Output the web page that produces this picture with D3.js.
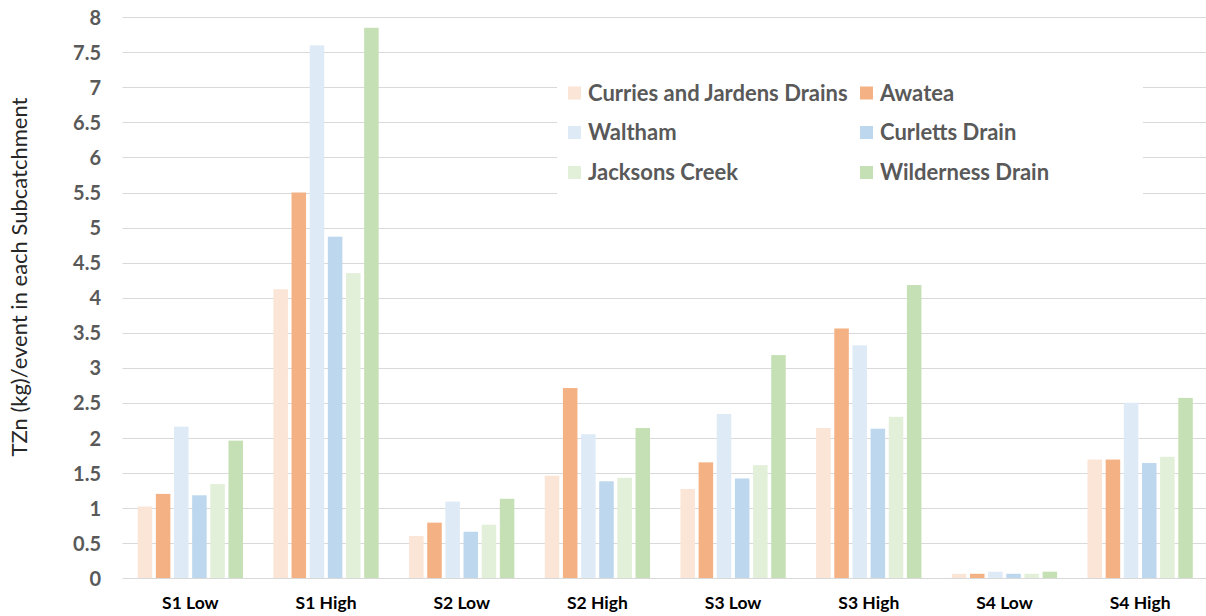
<!DOCTYPE html>
<html>
<head>
<meta charset="utf-8">
<script src="https://cdn.jsdelivr.net/npm/d3@7"></script>
<style>
  html, body { margin: 0; padding: 0; background: #fff; }
  svg { display: block; }
</style>
</head>
<body>
<div id="chart"></div>
<script>
const categories = ["S1 Low", "S1 High", "S2 Low", "S2 High", "S3 Low", "S3 High", "S4 Low", "S4 High"];
const seriesNames = ["Curries and Jardens Drains", "Awatea", "Waltham", "Curletts Drain", "Jacksons Creek", "Wilderness Drain"];
const curries    = [1.02, 4.12, 0.60, 1.46, 1.27, 2.14, 0.06, 1.69];
const awatea     = [1.20, 5.50, 0.79, 2.71, 1.65, 3.56, 0.06, 1.69];
const waltham    = [2.16, 7.60, 1.09, 2.05, 2.34, 3.32, 0.09, 2.50];
const curletts   = [1.18, 4.87, 0.66, 1.38, 1.42, 2.13, 0.06, 1.64];
const jacksons   = [1.34, 4.35, 0.76, 1.43, 1.61, 2.30, 0.06, 1.73];
const wilderness = [1.96, 7.85, 1.13, 2.14, 3.18, 4.18, 0.09, 2.57];
const yTicks = [0, 0.5, 1, 1.5, 2, 2.5, 3, 3.5, 4, 4.5, 5, 5.5, 6, 6.5, 7, 7.5, 8];
const colors = ["#FBE5D6", "#F4B183", "#DEEBF7", "#BDD7EE", "#E2F0D9", "#C5E0B4"];
const yTitle = "TZn (kg)/event in each Subcatchment";

const seriesValues = [curries, awatea, waltham, curletts, jacksons, wilderness];

const W = 1206, H = 616;
const plotLeft = 122.5, plotRight = 1208, plotTop = 17.3, plotBottom = 578;

const svg = d3.select("#chart").append("svg").attr("width", W).attr("height", H);

const x = d3.scaleBand().domain(categories).range([plotLeft, plotRight]).paddingInner(0).paddingOuter(0);
const inner = d3.scaleBand().domain(d3.range(seriesNames.length))
  .range([15.2, x.bandwidth() - 15.2]).paddingInner(0.2).paddingOuter(0);
const y = d3.scaleLinear().domain([0, 8]).range([plotBottom, plotTop]);

// gridlines
const grid = svg.append("g").attr("class", "grid");
grid.selectAll("line").data(yTicks).join("line")
  .attr("x1", plotLeft).attr("x2", W)
  .attr("y1", d => Math.round(y(d)) + 0.5).attr("y2", d => Math.round(y(d)) + 0.5)
  .attr("stroke", "#D9D9D9").attr("stroke-width", 1);

// y axis labels
const yAxis = d3.axisLeft(y).tickValues(yTicks).tickSize(0).tickPadding(0).tickFormat(d3.format("~g"));
const yg = svg.append("g").attr("transform", `translate(101,0)`).call(yAxis);
yg.select(".domain").remove();
yg.selectAll("text")
  .attr("font-family", "Lato, 'Open Sans', sans-serif")
  .attr("font-weight", "bold").attr("font-size", 20).attr("fill", "#595959")
  .attr("dy", "0.36em");

// bars
const groups = svg.append("g").selectAll("g").data(categories).join("g")
  .attr("transform", d => `translate(${x(d)},0)`);
groups.selectAll("rect").data((c, ci) => seriesValues.map((vals, si) => ({si, v: vals[ci]})))
  .join("rect")
  .attr("x", d => inner(d.si))
  .attr("width", inner.bandwidth())
  .attr("y", d => y(d.v))
  .attr("height", d => y(0) - y(d.v))
  .attr("fill", d => colors[d.si]);

// x axis
const xAxis = d3.axisBottom(x).tickSize(0).tickPadding(0);
const xg = svg.append("g").attr("transform", `translate(0,${plotBottom})`).call(xAxis);
xg.select(".domain").remove();
xg.selectAll("text")
  .attr("font-family", "Lato, 'Open Sans', sans-serif")
  .attr("font-weight", "bold").attr("font-size", 17.5).attr("fill", "#000")
  .attr("y", 31).attr("dy", 0);

// y title
svg.append("text")
  .attr("transform", `translate(27,${277}) rotate(-90)`)
  .attr("text-anchor", "middle")
  .attr("font-family", "Lato, 'Open Sans', sans-serif")
  .attr("font-size", 22).attr("fill", "#262626")
  .text(yTitle);

// legend
const legend = svg.append("g");
legend.append("rect").attr("x", 557).attr("y", 55).attr("width", 586).attr("height", 170).attr("fill", "#fff");
const colX = [568, 860];
const rowY = [93, 132.5, 172.5];
const items = legend.selectAll("g.item").data(seriesNames).join("g").attr("class", "item")
  .attr("transform", (d, i) => `translate(${colX[i % 2]},${rowY[Math.floor(i / 2)]})`);
items.append("rect").attr("x", 0).attr("y", -6.5).attr("width", 13).attr("height", 13)
  .attr("fill", (d, i) => colors[i]);
items.append("text").attr("x", 20).attr("y", 0).attr("dy", "0.36em")
  .attr("font-family", "Lato, 'Open Sans', sans-serif")
  .attr("font-weight", "bold").attr("font-size", 22).attr("fill", "#595959")
  .text(d => d);
</script>
</body>
</html>
